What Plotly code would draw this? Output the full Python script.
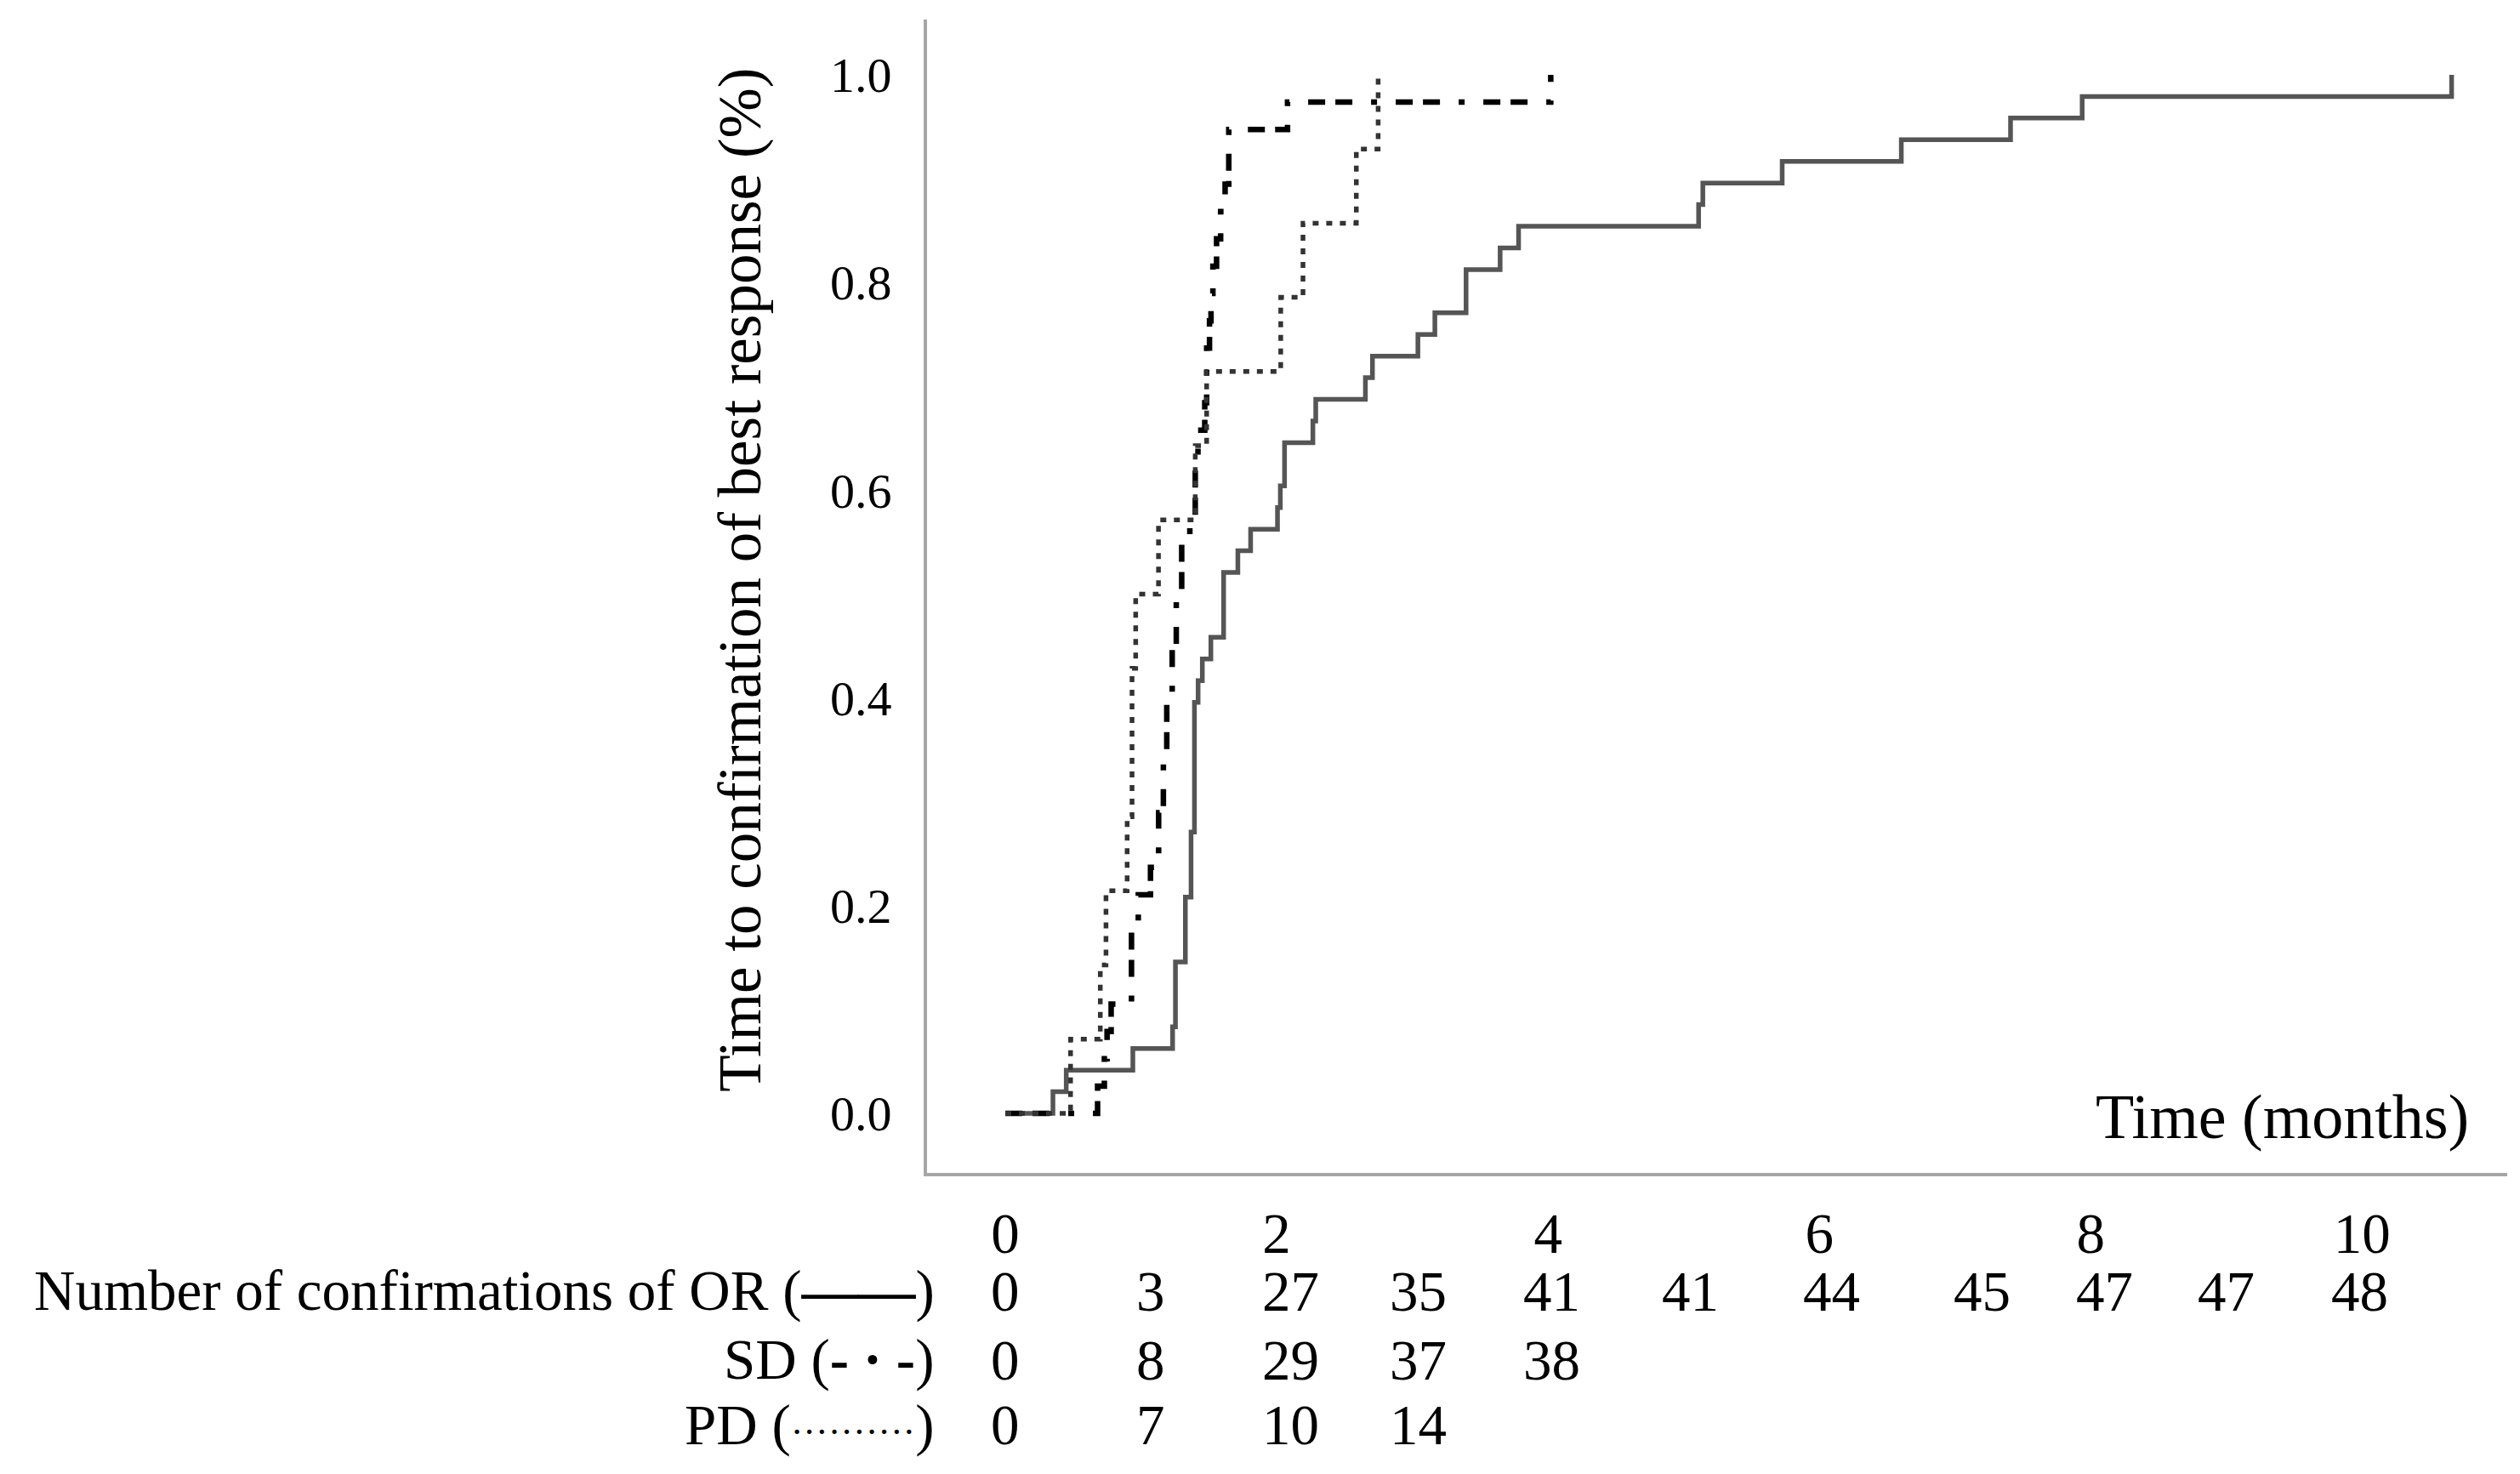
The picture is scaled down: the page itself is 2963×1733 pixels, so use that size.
import plotly.graph_objects as go

# ---------------- data ----------------
# Objective response (OR): event times (months) and cumulative confirmations
or_times = [0, 0.351, 0.449, 0.940, 1.233, 1.254, 1.327, 1.369, 1.394, 1.421, 1.452,
            1.515, 1.609, 1.714, 1.808, 2.006, 2.027, 2.058, 2.267, 2.288, 2.654,
            2.706, 3.041, 3.166, 3.396, 3.647, 3.783, 5.110, 5.141, 5.726, 6.604,
            7.409, 7.937, 10.66]
or_counts = [0, 1, 2, 3, 4, 7, 10, 13, 19, 20, 21,
             22, 25, 26, 27, 28, 29, 31, 32, 33, 34,
             35, 36, 37, 39, 40, 41, 42, 43, 44, 45,
             46, 47, 48]
or_n = 48

# Stable disease (SD)
sd_times = [0, 0.68, 0.73, 0.75, 0.78, 0.93, 0.98, 1.07, 1.13, 1.165, 1.19, 1.23,
            1.26, 1.30, 1.36, 1.40, 1.42, 1.47, 1.484, 1.505, 1.516, 1.53, 1.557,
            1.587, 1.62, 1.647, 2.08, 4.02]
sd_counts = [0, 1, 2, 3, 4, 7, 8, 9, 11, 13, 15, 17,
             19, 21, 22, 24, 25, 26, 28, 29, 30, 31, 32,
             33, 34, 36, 37, 38]
sd_n = 38

# Progressive disease (PD)
pd_times = [0, 0.481, 0.70, 0.742, 0.898, 0.934, 0.961, 1.129, 1.40, 1.484,
            2.03, 2.194, 2.587, 2.748]
pd_counts = [0, 1, 2, 3, 4, 6, 7, 8, 9, 10, 11, 12, 13, 14]
pd_n = 14

# Risk table (number of confirmations at each month)
table_months = [0, 1, 2, 3, 4, 5, 6, 7, 8, 9, 10]
table_or = [0, 3, 27, 35, 41, 41, 44, 45, 47, 47, 48]
table_sd = [0, 8, 29, 37, 38]
table_pd = [0, 7, 10, 14]
row_labels = ["Number of confirmations of OR (<b>——</b>)",
              "SD (<b>- · -</b>)",
              "PD (<span style='font-size:44px'>··········</span>)"]

x_ticks = [0, 2, 4, 6, 8, 10]
y_ticks = [0.0, 0.2, 0.4, 0.6, 0.8, 1.0]

# ---------------- layout helpers (positions, not data) ----------------
# horizontal placement of each risk-table column, in axis (month) units
table_col_x = [0, 1.07, 2.1, 3.04, 4.03, 5.05, 6.09, 7.2, 8.1, 9.0, 9.98]
row_y = [-0.1025, -0.1622, -0.2183]

W, H = 2963, 1733
FONT = "Liberation Serif, Times New Roman, serif"

fig = go.Figure()

def prop(counts, n):
    return [c / n for c in counts]

fig.add_trace(go.Scatter(x=or_times, y=prop(or_counts, or_n), mode="lines",
                         line=dict(shape="hv", color="#555555", width=5.5),
                         name="OR", showlegend=False))
fig.add_trace(go.Scatter(x=sd_times, y=prop(sd_counts, sd_n), mode="lines",
                         line=dict(shape="hv", color="#000000", width=6.5,
                                   dash="20px,12px,20px,22px,7px,22px"),
                         name="SD", showlegend=False))
fig.add_trace(go.Scatter(x=pd_times, y=prop(pd_counts, pd_n), mode="lines",
                         line=dict(shape="hv", color="#333333", width=5.5,
                                   dash="7px,9px"),
                         name="PD", showlegend=False))

annotations = []
annotations.append(dict(text="Time to confirmation of best response (%)",
                        xref="paper", yref="paper", x=-0.1185, y=0.514,
                        textangle=-90, showarrow=False,
                        font=dict(family=FONT, size=71, color="black"),
                        xanchor="center", yanchor="middle"))
annotations.append(dict(text="Time (months)", xref="x", yref="y",
                        x=10.8, y=-0.003, showarrow=False,
                        xanchor="right", yanchor="middle",
                        font=dict(family=FONT, size=74, color="black")))

rows = [table_or, table_sd, table_pd]
for lab, ry, vals in zip(row_labels, row_y, rows):
    annotations.append(dict(text=lab, xref="x", yref="paper", x=-0.51, y=ry,
                            showarrow=False, xanchor="right", yanchor="middle",
                            font=dict(family=FONT, size=67, color="black")))
    for cx, v in zip(table_col_x, vals):
        annotations.append(dict(text=str(v), xref="x", yref="paper", x=cx, y=ry,
                                showarrow=False, xanchor="center", yanchor="middle",
                                font=dict(family=FONT, size=67, color="black")))

fig.update_layout(
    width=W, height=H,
    margin=dict(l=1082, r=23, t=15, b=362),
    paper_bgcolor="white", plot_bgcolor="white",
    annotations=annotations,
    xaxis=dict(range=[-0.577, 11.07], showline=True, linecolor="#a6a6a6", linewidth=4,
               showgrid=False, zeroline=False, ticks="", tickvals=x_ticks,
               ticktext=[str(t) for t in x_ticks], ticklabelstandoff=10,
               tickfont=dict(family=FONT, size=67, color="black")),
    yaxis=dict(range=[-0.0573, 1.0532], showline=True, linecolor="#a6a6a6", linewidth=4,
               showgrid=False, zeroline=False, ticks="", tickvals=y_ticks,
               ticktext=[f"{t:.1f}" for t in y_ticks], ticklabelstandoff=26,
               tickfont=dict(family=FONT, size=58, color="black")),
)

fig.write_html("out.html")
